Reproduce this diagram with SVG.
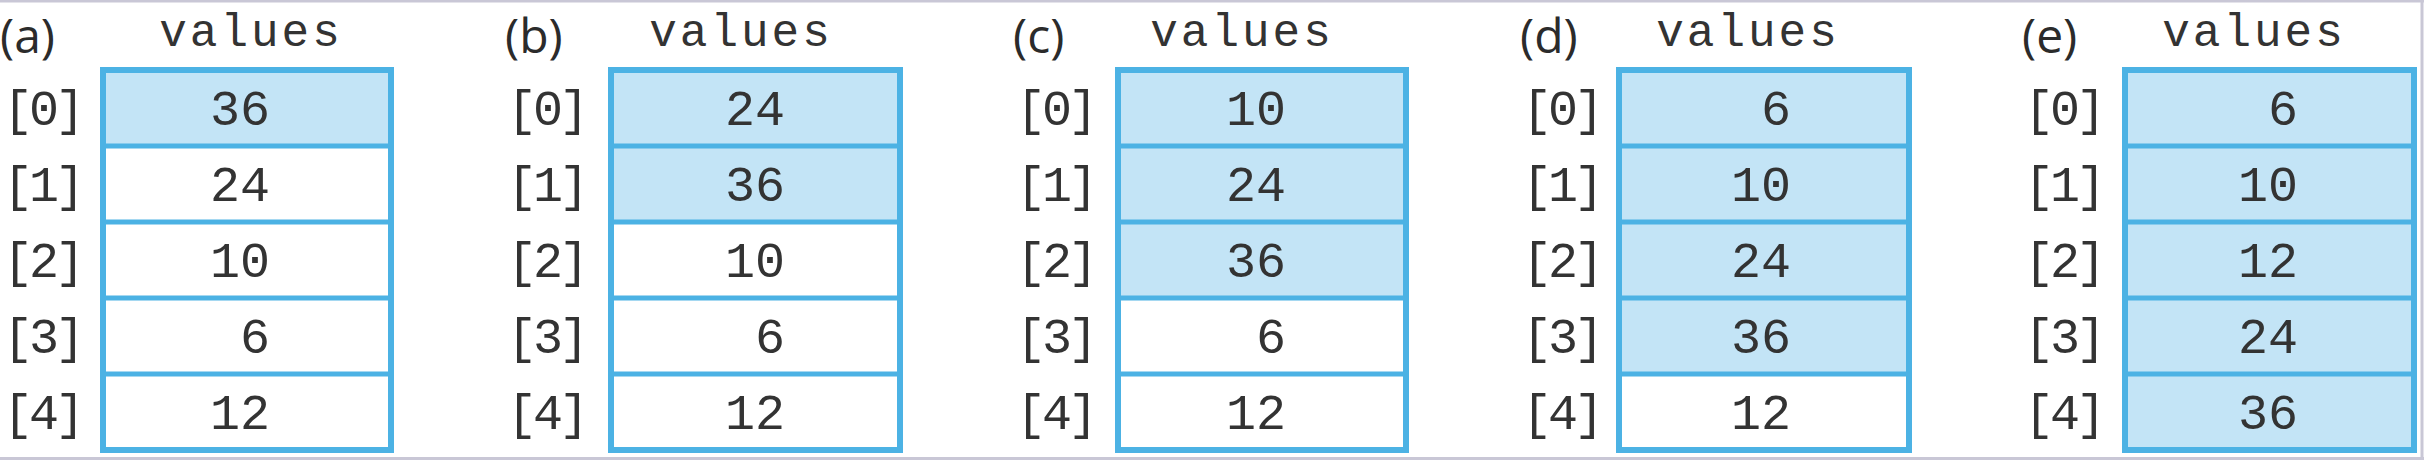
<svg xmlns="http://www.w3.org/2000/svg" width="2424" height="460" viewBox="0 0 2424 460">
<style>
.bg{fill:#ffffff}
.frame{stroke:#c9c7d6;stroke-width:3;fill:none}
.cell{fill:#ffffff}
.hi{fill:#c3e4f6}
.div{stroke:#4cb2e4;stroke-width:5}
.box{fill:none;stroke:#4cb2e4;stroke-width:6}
.tag{font-family:"Open Sans","Noto Sans",sans-serif;font-size:48px;fill:#2b2b2b}
.title{font-family:"Liberation Mono",monospace;font-size:46px;letter-spacing:3px;fill:#333333;text-anchor:middle}
.idx{font-family:"Liberation Mono",monospace;font-size:50px;letter-spacing:-4px;fill:#333333;text-anchor:middle}
.num{font-family:"Liberation Mono",monospace;font-size:50px;fill:#333333;text-anchor:end}
</style>
<rect class="bg" x="0" y="0" width="2424" height="460"/>
<g id="frame">
<line class="frame" x1="0" y1="1" x2="2424" y2="1"/>
<line class="frame" x1="0" y1="458.5" x2="2424" y2="458.5"/>
<line class="frame" x1="2422" y1="0" x2="2422" y2="460"/>
</g>
<g id="connectors"></g>

<g id="panel-a">
<text class="tag" x="0" y="53">(a)</text>
<text class="title" x="251" y="46">values</text>
<rect class="hi" x="103" y="70" width="288" height="76"/>
<rect class="cell" x="103" y="146" width="288" height="76"/>
<rect class="cell" x="103" y="222" width="288" height="76"/>
<rect class="cell" x="103" y="298" width="288" height="76"/>
<rect class="cell" x="103" y="374" width="288" height="76"/>
<line class="div" x1="103" y1="146" x2="391" y2="146"/>
<line class="div" x1="103" y1="222" x2="391" y2="222"/>
<line class="div" x1="103" y1="298" x2="391" y2="298"/>
<line class="div" x1="103" y1="374" x2="391" y2="374"/>
<rect class="box" x="103" y="70" width="288" height="380"/>
<text class="idx" x="42" y="125">[0]</text>
<text class="idx" x="42" y="201">[1]</text>
<text class="idx" x="42" y="277">[2]</text>
<text class="idx" x="42" y="353">[3]</text>
<text class="idx" x="42" y="429">[4]</text>
<text class="num" x="270" y="125">36</text>
<text class="num" x="270" y="201">24</text>
<text class="num" x="270" y="277">10</text>
<text class="num" x="270" y="353">6</text>
<text class="num" x="270" y="429">12</text>
</g>

<g id="panel-b">
<text class="tag" x="505" y="53">(b)</text>
<text class="title" x="741" y="46">values</text>
<rect class="hi" x="611" y="70" width="289" height="76"/>
<rect class="hi" x="611" y="146" width="289" height="76"/>
<rect class="cell" x="611" y="222" width="289" height="76"/>
<rect class="cell" x="611" y="298" width="289" height="76"/>
<rect class="cell" x="611" y="374" width="289" height="76"/>
<line class="div" x1="611" y1="146" x2="900" y2="146"/>
<line class="div" x1="611" y1="222" x2="900" y2="222"/>
<line class="div" x1="611" y1="298" x2="900" y2="298"/>
<line class="div" x1="611" y1="374" x2="900" y2="374"/>
<rect class="box" x="611" y="70" width="289" height="380"/>
<text class="idx" x="546" y="125">[0]</text>
<text class="idx" x="546" y="201">[1]</text>
<text class="idx" x="546" y="277">[2]</text>
<text class="idx" x="546" y="353">[3]</text>
<text class="idx" x="546" y="429">[4]</text>
<text class="num" x="785" y="125">24</text>
<text class="num" x="785" y="201">36</text>
<text class="num" x="785" y="277">10</text>
<text class="num" x="785" y="353">6</text>
<text class="num" x="785" y="429">12</text>
</g>

<g id="panel-c">
<text class="tag" x="1013" y="53">(c)</text>
<text class="title" x="1242" y="46">values</text>
<rect class="hi" x="1118" y="70" width="288" height="76"/>
<rect class="hi" x="1118" y="146" width="288" height="76"/>
<rect class="hi" x="1118" y="222" width="288" height="76"/>
<rect class="cell" x="1118" y="298" width="288" height="76"/>
<rect class="cell" x="1118" y="374" width="288" height="76"/>
<line class="div" x1="1118" y1="146" x2="1406" y2="146"/>
<line class="div" x1="1118" y1="222" x2="1406" y2="222"/>
<line class="div" x1="1118" y1="298" x2="1406" y2="298"/>
<line class="div" x1="1118" y1="374" x2="1406" y2="374"/>
<rect class="box" x="1118" y="70" width="288" height="380"/>
<text class="idx" x="1055" y="125">[0]</text>
<text class="idx" x="1055" y="201">[1]</text>
<text class="idx" x="1055" y="277">[2]</text>
<text class="idx" x="1055" y="353">[3]</text>
<text class="idx" x="1055" y="429">[4]</text>
<text class="num" x="1286" y="125">10</text>
<text class="num" x="1286" y="201">24</text>
<text class="num" x="1286" y="277">36</text>
<text class="num" x="1286" y="353">6</text>
<text class="num" x="1286" y="429">12</text>
</g>

<g id="panel-d">
<text class="tag" x="1520" y="53">(d)</text>
<text class="title" x="1748" y="46">values</text>
<rect class="hi" x="1619" y="70" width="290" height="76"/>
<rect class="hi" x="1619" y="146" width="290" height="76"/>
<rect class="hi" x="1619" y="222" width="290" height="76"/>
<rect class="hi" x="1619" y="298" width="290" height="76"/>
<rect class="cell" x="1619" y="374" width="290" height="76"/>
<line class="div" x1="1619" y1="146" x2="1909" y2="146"/>
<line class="div" x1="1619" y1="222" x2="1909" y2="222"/>
<line class="div" x1="1619" y1="298" x2="1909" y2="298"/>
<line class="div" x1="1619" y1="374" x2="1909" y2="374"/>
<rect class="box" x="1619" y="70" width="290" height="380"/>
<text class="idx" x="1561" y="125">[0]</text>
<text class="idx" x="1561" y="201">[1]</text>
<text class="idx" x="1561" y="277">[2]</text>
<text class="idx" x="1561" y="353">[3]</text>
<text class="idx" x="1561" y="429">[4]</text>
<text class="num" x="1791" y="125">6</text>
<text class="num" x="1791" y="201">10</text>
<text class="num" x="1791" y="277">24</text>
<text class="num" x="1791" y="353">36</text>
<text class="num" x="1791" y="429">12</text>
</g>

<g id="panel-e">
<text class="tag" x="2022" y="53">(e)</text>
<text class="title" x="2254" y="46">values</text>
<rect class="hi" x="2125" y="70" width="289" height="76"/>
<rect class="hi" x="2125" y="146" width="289" height="76"/>
<rect class="hi" x="2125" y="222" width="289" height="76"/>
<rect class="hi" x="2125" y="298" width="289" height="76"/>
<rect class="hi" x="2125" y="374" width="289" height="76"/>
<line class="div" x1="2125" y1="146" x2="2414" y2="146"/>
<line class="div" x1="2125" y1="222" x2="2414" y2="222"/>
<line class="div" x1="2125" y1="298" x2="2414" y2="298"/>
<line class="div" x1="2125" y1="374" x2="2414" y2="374"/>
<rect class="box" x="2125" y="70" width="289" height="380"/>
<text class="idx" x="2063" y="125">[0]</text>
<text class="idx" x="2063" y="201">[1]</text>
<text class="idx" x="2063" y="277">[2]</text>
<text class="idx" x="2063" y="353">[3]</text>
<text class="idx" x="2063" y="429">[4]</text>
<text class="num" x="2298" y="125">6</text>
<text class="num" x="2298" y="201">10</text>
<text class="num" x="2298" y="277">12</text>
<text class="num" x="2298" y="353">24</text>
<text class="num" x="2298" y="429">36</text>
</g>
</svg>
